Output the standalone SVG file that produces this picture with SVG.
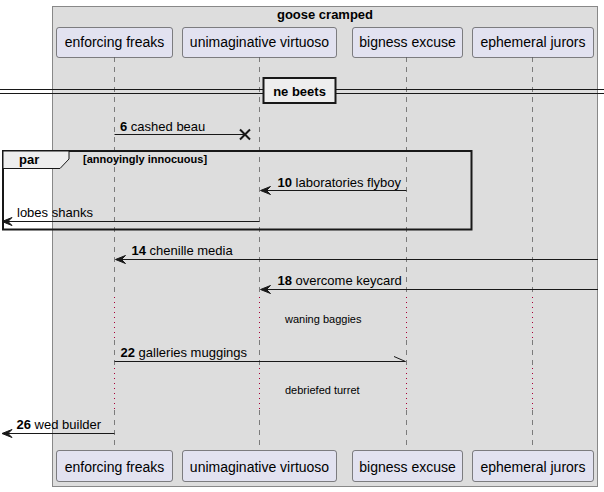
<svg xmlns="http://www.w3.org/2000/svg" width="604" height="492" viewBox="0 0 604 492">
<style>
text{font-family:"Liberation Sans",Arial,sans-serif;fill:#000}
.pbox{fill:#E2E2F0;stroke:#181818;stroke-width:0.5}
.pt{font-size:14px;text-anchor:middle}
.msg{font-size:13px}
.num{font-weight:bold}
.life{stroke:#181818;stroke-width:0.5;stroke-dasharray:5,5;fill:none}
.dot{stroke:#A80036;stroke-width:1;stroke-dasharray:1,4;fill:none}
.line{stroke:#181818;stroke-width:1;fill:none}
.head{fill:#181818;stroke:#181818;stroke-width:1}
.small{font-size:11px}
</style>
<g id="box">
<rect x="52.5" y="6.5" width="545" height="480" fill="#DDDDDD" stroke="#888888" stroke-width="1"/>
<text x="325" y="19" font-size="13" font-weight="bold" text-anchor="middle">goose cramped</text>
</g>
<g id="lifelines">
<g id="ll-enforcing">
<path class="life" d="M114.5,57 V297 M114.5,340 V368 M114.5,410 V450"/>
<path class="dot" d="M114.5,297 V340 M114.5,368 V410"/>
</g>
<g id="ll-unimaginative">
<path class="life" d="M259.5,57 V297 M259.5,340 V368 M259.5,410 V450"/>
<path class="dot" d="M259.5,297 V340 M259.5,368 V410"/>
</g>
<g id="ll-bigness">
<path class="life" d="M406.5,57 V297 M406.5,340 V368 M406.5,410 V450"/>
<path class="dot" d="M406.5,297 V340 M406.5,368 V410"/>
</g>
<g id="ll-ephemeral">
<path class="life" d="M532.5,57 V297 M532.5,340 V368 M532.5,410 V450"/>
<path class="dot" d="M532.5,297 V340 M532.5,368 V410"/>
</g>
</g>
<g id="p-enforcing">
<rect class="pbox" x="56.5" y="27.5" width="116" height="30" rx="2.5"/>
<text class="pt" x="114.5" y="47">enforcing freaks</text>
<rect class="pbox" x="56.5" y="450.5" width="116" height="31" rx="2.5"/>
<text class="pt" x="114.5" y="472">enforcing freaks</text>
</g>
<g id="p-unimaginative">
<rect class="pbox" x="182.5" y="27.5" width="154" height="30" rx="2.5"/>
<text class="pt" x="259.5" y="47">unimaginative virtuoso</text>
<rect class="pbox" x="182.5" y="450.5" width="154" height="31" rx="2.5"/>
<text class="pt" x="259.5" y="472">unimaginative virtuoso</text>
</g>
<g id="p-bigness">
<rect class="pbox" x="352.5" y="27.5" width="110" height="30" rx="2.5"/>
<text class="pt" x="407.5" y="47">bigness excuse</text>
<rect class="pbox" x="352.5" y="450.5" width="110" height="31" rx="2.5"/>
<text class="pt" x="407.5" y="472">bigness excuse</text>
</g>
<g id="p-ephemeral">
<rect class="pbox" x="472.5" y="27.5" width="121" height="30" rx="2.5"/>
<text class="pt" x="533" y="47">ephemeral jurors</text>
<rect class="pbox" x="472.5" y="450.5" width="121" height="31" rx="2.5"/>
<text class="pt" x="533" y="472">ephemeral jurors</text>
</g>
<g id="divider">
<path d="M0,89.5 H604 M0,93.5 H604" stroke="#181818" stroke-width="1"/>
<rect x="263.5" y="78" width="72" height="25" fill="#EEEEEE" stroke="#181818" stroke-width="2"/>
<text x="299.5" y="96" font-size="13" font-weight="bold" text-anchor="middle">ne beets</text>
</g>
<g id="par">
<rect x="3" y="151" width="468.5" height="78.5" fill="none" stroke="#181818" stroke-width="2"/>
<path d="M3,151 H69 V159 L60,168.5 H3 Z" fill="#EEEEEE" stroke="#181818" stroke-width="1"/>
<text x="19" y="164" font-size="13" font-weight="bold">par</text>
<text x="83" y="163" font-size="11" font-weight="bold">[annoyingly innocuous]</text>
</g>
<g id="connectors">
<g id="m6">
<path class="line" d="M114.5,134.5 H245"/>
<path d="M240,129.5 L250,139.5 M240,139.5 L250,129.5" stroke="#181818" stroke-width="2"/>
<text class="msg" x="120" y="131"><tspan class="num">6</tspan> cashed beau</text>
</g>
<g id="m10">
<path class="line" d="M406.5,190.5 H261"/>
<polygon class="head" points="260.5,190.5 270.5,186.5 266.5,190.5 270.5,194.5"/>
<text class="msg" x="277.5" y="187"><tspan class="num">10</tspan> laboratories flyboy</text>
</g>
<g id="m-lobes">
<path class="line" d="M259.5,221.5 H3"/>
<polygon class="head" points="2,221.5 12,217.5 8,221.5 12,225.5"/>
<text class="msg" x="17" y="217">lobes shanks</text>
</g>
<g id="m14">
<path class="line" d="M598,259.5 H116"/>
<polygon class="head" points="115.5,259.5 125.5,255.5 121.5,259.5 125.5,263.5"/>
<text class="msg" x="131.5" y="255"><tspan class="num">14</tspan> chenille media</text>
</g>
<g id="m18">
<path class="line" d="M598,289.5 H261"/>
<polygon class="head" points="260.5,289.5 270.5,285.5 266.5,289.5 270.5,293.5"/>
<text class="msg" x="277.5" y="285"><tspan class="num">18</tspan> overcome keycard</text>
</g>
<text class="small" x="285" y="323">waning baggies</text>
<g id="m22">
<path class="line" d="M114.5,361.5 H405.5"/>
<path class="line" d="M405.5,361.5 L394,356.5"/>
<text class="msg" x="120.5" y="357"><tspan class="num">22</tspan> galleries muggings</text>
</g>
<text class="small" x="285" y="394">debriefed turret</text>
<g id="m26">
<path class="line" d="M114.5,433.5 H3"/>
<polygon class="head" points="2,433.5 12,429.5 8,433.5 12,437.5"/>
<text class="msg" x="16.5" y="429"><tspan class="num">26</tspan> wed builder</text>
</g>
</g>
</svg>
